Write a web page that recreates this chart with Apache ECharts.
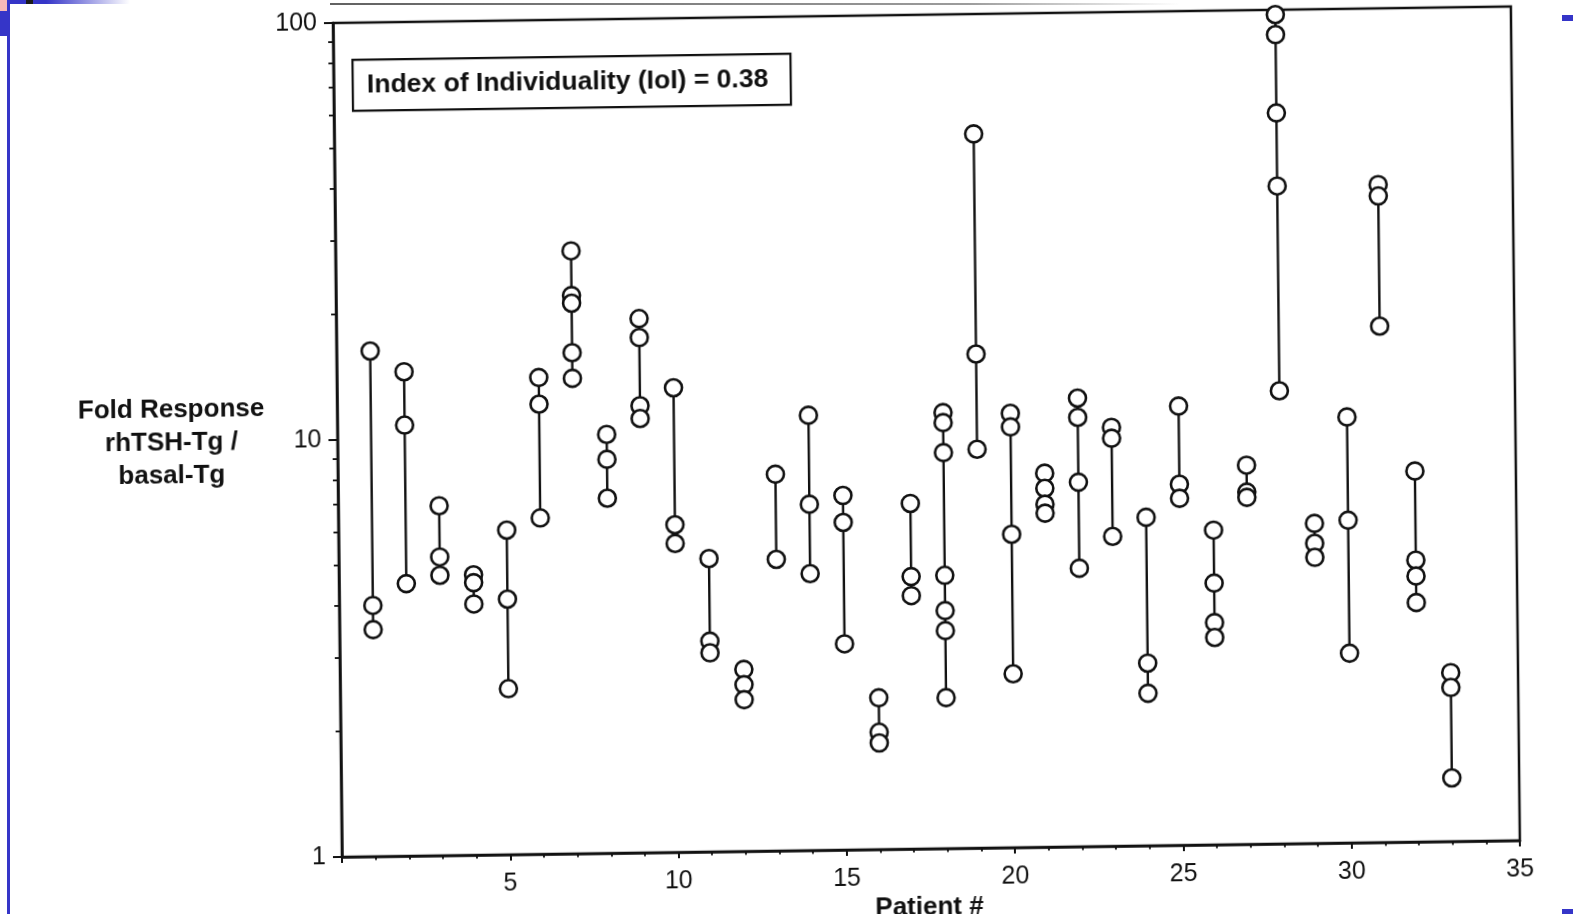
<!DOCTYPE html>
<html>
<head>
<meta charset="utf-8">
<script src="https://cdn.jsdelivr.net/npm/echarts@6/dist/echarts.min.js"></script>
<style>
  html, body { margin: 0; padding: 0; width: 1573px; height: 914px; overflow: hidden; background: #fff; }
  #scan { position: absolute; left: 0; top: 0; width: 1600px; height: 960px;
          transform-origin: 342px 857px; transform: matrix(1, -0.014, 0.0108, 1, 0, 0); }
  .deco { position: absolute; }
</style>
</head>
<body>
<div id="scan"></div>
<div class="deco" style="left:330px;top:3px;width:850px;height:2px;background:linear-gradient(to right, rgba(70,70,70,0.85), rgba(90,90,90,0.6) 75%, rgba(120,120,120,0));"></div>
<div class="deco" style="left:10px;top:0;width:120px;height:4px;background:linear-gradient(to right,#3535c8 0%,#3535c8 30%,#ffffff 100%);"></div>
<div class="deco" style="left:26px;top:0;width:7px;height:4px;background:#1a1a1a;"></div>
<div class="deco" style="left:0;top:0;width:10px;height:11px;background:#f6b9b9;"></div>
<div class="deco" style="left:0;top:11px;width:10px;height:25px;background:#3535c8;"></div>
<div class="deco" style="left:7px;top:0;width:3px;height:914px;background:#3535c8;"></div>
<div class="deco" style="left:1562px;top:15px;width:11px;height:6px;background:#3535c8;"></div>
<div class="deco" style="left:1562px;top:909px;width:11px;height:5px;background:#3535c8;"></div>
<script>
// Patient numbers (x axis)
const patients = [1,2,3,4,5,6,7,8,9,10,11,12,13,14,15,16,17,18,19,20,21,22,23,24,25,26,27,28,29,30,31,32,33];

// Fold response (rhTSH-Tg / basal-Tg) for each patient, repeated tests
const foldResponse = [
  [16.3, 4.0, 3.5],
  [14.5, 10.8, 4.5],
  [6.9, 5.2, 4.7],
  [4.7, 4.5, 4.0],
  [6.0, 4.1, 2.5],
  [13.9, 12.0, 6.4],
  [27.9, 21.8, 20.9, 15.9, 13.8],
  [10.1, 8.8, 7.1],
  [19.1, 17.2, 11.8, 11.0],
  [13.0, 6.1, 5.5],
  [5.05, 3.2, 3.0],
  [2.73, 2.51, 2.31],
  [8.0, 5.0],
  [11.05, 6.76, 4.61],
  [7.08, 6.10, 3.12],
  [2.31, 1.91, 1.80],
  [6.74, 4.50, 4.05],
  [11.1, 10.5, 8.9, 4.52, 3.72, 3.33, 2.30],
  [51.6, 15.3, 9.04],
  [11.0, 10.2, 5.64, 2.61],
  [7.88, 7.25, 6.64, 6.32],
  [11.9, 10.7, 7.48, 4.65],
  [10.1, 9.51, 5.53],
  [6.13, 2.74, 2.32],
  [11.3, 7.34, 6.79],
  [5.68, 4.24, 3.41, 3.14],
  [8.11, 6.99, 6.79],
  [97.4, 87.2, 56.6, 37.8, 12.2],
  [5.85, 5.24, 4.85],
  [10.5, 5.94, 2.85],
  [37.8, 35.5, 17.3],
  [7.75, 4.74, 4.34, 3.75],
  [2.54, 2.34, 1.42]
];

// Minor tick values on the log y axis
const yMinorTickValues = [2,3,4,5,6,7,8,9,20,30,40,50,60,70,80,90];

const yAxisTitle = 'Fold Response\nrhTSH-Tg /\nbasal-Tg';
const xAxisTitle = 'Patient #';
const annotation = 'Index of Individuality (IoI) = 0.38';

const FONT = '"Liberation Sans", Arial, Helvetica, sans-serif';
const INK = '#111';

const chart = echarts.init(document.getElementById('scan'), null, { renderer: 'canvas' });

const patientSeries = patients.map((p, i) => ({
  type: 'line',
  data: foldResponse[i].map(v => [p, v]),
  symbol: 'circle',
  symbolSize: 17,
  showAllSymbol: true,
  itemStyle: { color: '#fff', borderColor: INK, borderWidth: 2.6 },
  lineStyle: { color: INK, width: 2.4 },
  emphasis: { disabled: true },
  silent: true,
  z: 3
}));

const option = {
  animation: false,
  backgroundColor: 'transparent',
  grid: {
    left: 342, top: 23, width: 1178, height: 834,
    show: true, borderColor: INK, borderWidth: 2.5, backgroundColor: 'transparent'
  },
  xAxis: {
    type: 'value', min: 0, max: 35, interval: 5,
    axisLine: { show: true, onZero: false, lineStyle: { color: INK, width: 2.5 } },
    axisTick: { show: true, length: 6, lineStyle: { color: INK, width: 2 } },
    minorTick: { show: true, splitNumber: 5, length: 3.5, lineStyle: { color: INK, width: 1.8 } },
    splitLine: { show: false },
    axisLabel: {
      margin: 17, color: INK, fontSize: 25, fontFamily: FONT,
      formatter: v => (v === 0 ? '' : String(v))
    }
  },
  yAxis: {
    type: 'log', logBase: 10, min: 1, max: 100,
    axisLine: { show: true, lineStyle: { color: INK, width: 2.5 } },
    axisTick: { show: true, length: 9, lineStyle: { color: INK, width: 2 } },
    minorTick: { show: false },
    splitLine: { show: false },
    axisLabel: { margin: 16, color: INK, fontSize: 25, fontFamily: FONT }
  },
  graphic: [
    {
      type: 'rect', left: 360, top: 59, z: 10,
      shape: { width: 438, height: 51 },
      style: { fill: '#fff', stroke: INK, lineWidth: 2.2 }
    },
    {
      type: 'text', x: 576, y: 86, z: 11,
      style: {
        text: annotation, fill: INK, font: 'bold 26.5px ' + FONT,
        textAlign: 'center', textVerticalAlign: 'middle'
      }
    },
    {
      type: 'text', x: 176, y: 441, z: 11,
      style: {
        text: yAxisTitle, fill: INK, font: 'bold 26px ' + FONT,
        textAlign: 'center', textVerticalAlign: 'middle', lineHeight: 33
      }
    },
    {
      type: 'text', x: 929, y: 916, z: 11,
      style: {
        text: xAxisTitle, fill: INK, font: 'bold 26px ' + FONT,
        textAlign: 'center', textVerticalAlign: 'middle'
      }
    }
  ],
  series: [
    {
      type: 'custom',
      silent: true,
      clip: false,
      data: yMinorTickValues.map(v => [0, v]),
      renderItem: (params, api) => {
        const p = api.coord([api.value(0), api.value(1)]);
        return {
          type: 'line',
          shape: { x1: p[0] - 5, y1: p[1], x2: p[0], y2: p[1] },
          style: { stroke: INK, lineWidth: 1.8 }
        };
      },
      z: 2
    }
  ].concat(patientSeries)
};

chart.setOption(option);
</script>
</body>
</html>
